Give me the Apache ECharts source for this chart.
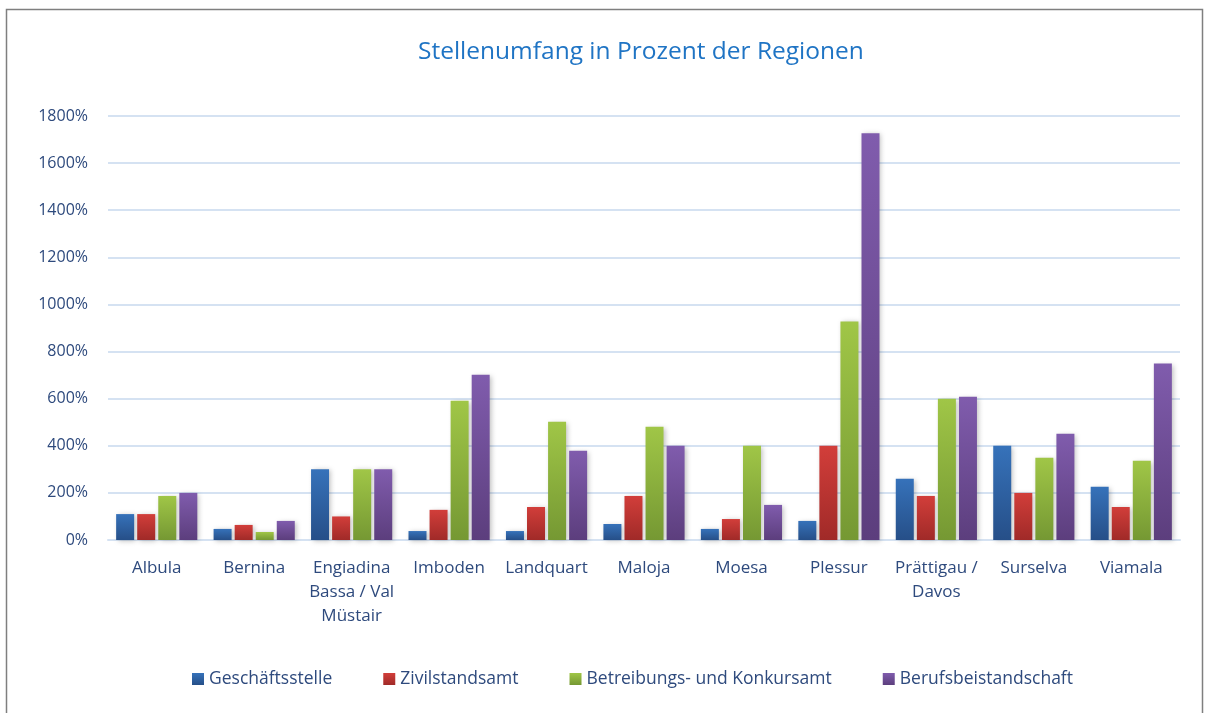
<!DOCTYPE html>
<html>
<head>
<meta charset="utf-8">
<script src="https://cdn.jsdelivr.net/npm/echarts@6/dist/echarts.min.js"></script>
<style>
  html, body { margin: 0; padding: 0; background: #fff; }
  #chart { width: 1205px; height: 713px; }
</style>
</head>
<body>
<div id="chart"></div>
<script>
var categories = ['Albula', 'Bernina', 'Engiadina\nBassa / Val\nMüstair', 'Imboden', 'Landquart', 'Maloja', 'Moesa', 'Plessur', 'Prättigau /\nDavos', 'Surselva', 'Viamala']
var geschaeftsstelle = [110, 47, 300, 38, 38, 68, 47, 81, 260, 400, 226]
var zivilstandsamt = [110, 64, 100, 128, 140, 187, 89, 400, 187, 200, 140]
var betreibungsamt = [187, 34, 300, 591, 502, 481, 400, 928, 600, 349, 336]
var berufsbeistand = [200, 81, 300, 702, 379, 400, 149, 1727, 608, 451, 749]

var textColor = '#2E4A7D'
var font = 'Open Sans'

function grad(top, bottom) {
  return new echarts.graphic.LinearGradient(0, 0, 0, 1, [
    { offset: 0, color: top },
    { offset: 1, color: bottom }
  ])
}

function barSeries(name, data, top, bottom) {
  return {
    name: name,
    type: 'bar',
    data: data,
    barWidth: 18,
    barGap: '17%',
    itemStyle: {
      color: grad(top, bottom),
      shadowBlur: 5,
      shadowColor: 'rgba(0,0,0,0.25)',
      shadowOffsetX: 2,
      shadowOffsetY: 1
    }
  }
}

var chart = echarts.init(document.getElementById('chart'))
chart.setOption({
  backgroundColor: '#ffffff',
  animation: false,
  graphic: [{
    type: 'rect',
    shape: { x: 6.5, y: 9.5, width: 1196, height: 720 },
    style: { fill: 'none', stroke: '#7f7f7f', lineWidth: 1.5 },
    silent: true
  }],
  title: {
    text: 'Stellenumfang in Prozent der Regionen',
    left: 413,
    top: 35,
    textStyle: {
      fontFamily: font,
      fontWeight: 'normal',
      color: '#1F74C4',
      fontSize: 24.5
    }
  },
  legend: {
    bottom: 20,
    left: 187,
    itemWidth: 12,
    itemHeight: 12,
    itemGap: 51,
    icon: 'rect',
    textStyle: { fontFamily: font, color: textColor, fontSize: 17.5 },
    data: ['Geschäftsstelle', 'Zivilstandsamt', 'Betreibungs- und Konkursamt', 'Berufsbeistandschaft']
  },
  grid: {
    left: 108,
    right: 25,
    top: 116,
    bottom: 173
  },
  xAxis: {
    type: 'category',
    data: categories,
    axisLine: { show: true, lineStyle: { color: '#d5e2f2', width: 2 } },
    axisTick: { show: false },
    axisLabel: {
      fontFamily: font,
      color: textColor,
      fontSize: 17,
      lineHeight: 24,
      margin: 16,
      interval: 0
    }
  },
  yAxis: {
    type: 'value',
    min: 0,
    max: 1800,
    interval: 200,
    axisLine: { show: false },
    axisTick: { show: false },
    splitLine: { lineStyle: { color: '#d5e2f2', width: 2 } },
    axisLabel: {
      fontFamily: font,
      color: textColor,
      fontSize: 16,
      margin: 20,
      formatter: function (v) { return v + '%' }
    }
  },
  series: [
    barSeries('Geschäftsstelle', geschaeftsstelle, '#3672BA', '#264F88'),
    barSeries('Zivilstandsamt', zivilstandsamt, '#D23E3A', '#A02A28'),
    barSeries('Betreibungs- und Konkursamt', betreibungsamt, '#A0C647', '#759833'),
    barSeries('Berufsbeistandschaft', berufsbeistand, '#805CAD', '#5C3E7D')
  ]
})
</script>
</body>
</html>
